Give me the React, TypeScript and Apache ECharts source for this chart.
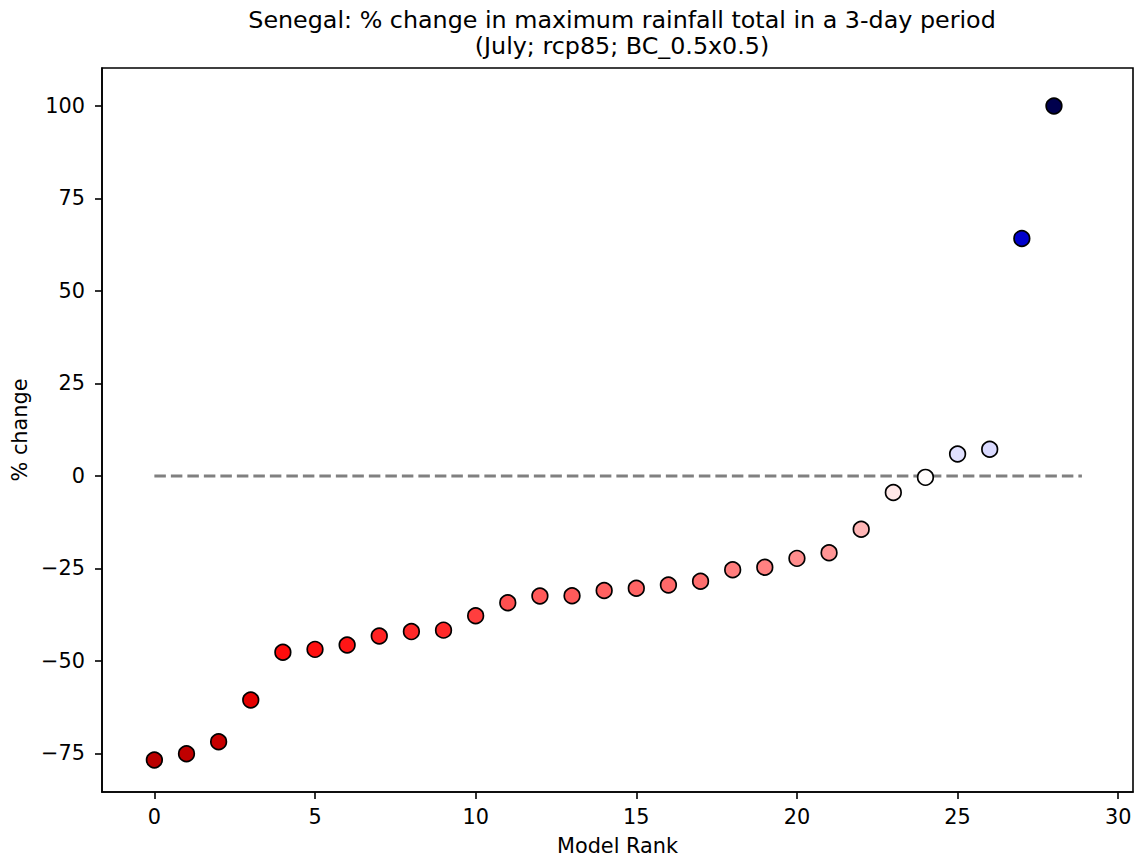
import React, { useEffect, useRef } from "react";
import * as echarts from "echarts";

const ranks = [0, 1, 2, 3, 4, 5, 6, 7, 8, 9, 10, 11, 12, 13, 14, 15, 16, 17, 18, 19, 20, 21, 22, 23, 24, 25, 26, 27, 28];
const pctChange = [
  -76.8, -75.1, -71.9, -60.6, -47.7, -46.9, -45.7, -43.3, -42.1, -41.7,
  -37.8, -34.3, -32.5, -32.4, -31.0, -30.4, -29.5, -28.5, -25.4, -24.7,
  -22.3, -20.8, -14.4, -4.5, -0.4, 5.9, 7.2, 64.2, 100.0,
];
const xTicks = [0, 5, 10, 15, 20, 25, 30];
const yTicks = [-75, -50, -25, 0, 25, 50, 75, 100];
const zeroLineX = [0, 28.87];
const titleText = "Senegal: % change in maximum rainfall total in a 3-day period\n(July; rcp85; BC_0.5x0.5)";

// seismic_r colormap, normalised to [-100, 100]
function seismicR(v: number): string {
  let t = 1 - (v + 100) / 200;
  t = Math.max(0, Math.min(1, t));
  const stops: [number, number[]][] = [
    [0, [0, 0, 0.3]],
    [0.25, [0, 0, 1]],
    [0.5, [1, 1, 1]],
    [0.75, [1, 0, 0]],
    [1, [0.5, 0, 0]],
  ];
  for (let i = 0; i < stops.length - 1; i++) {
    const [t0, c0] = stops[i];
    const [t1, c1] = stops[i + 1];
    if (t >= t0 && t <= t1) {
      const f = (t - t0) / (t1 - t0);
      const c = c0.map((a, k) => Math.round((a + (c1[k] - a) * f) * 255));
      return `rgb(${c[0]},${c[1]},${c[2]})`;
    }
  }
  return "#000";
}

const FONT = "DejaVu Sans";
const FS = 20.8;

export default function App() {
  const ref = useRef<HTMLDivElement>(null);
  useEffect(() => {
    if (!ref.current) return;
    const chart = echarts.init(ref.current, null, { renderer: "svg" });
    chart.setOption({
      animation: false,
      backgroundColor: "#fff",
      textStyle: { fontFamily: FONT },
      title: {
        text: titleText,
        left: 617,
        top: 2,
        textAlign: "center",
        textStyle: { fontFamily: FONT, fontSize: 23.8, fontWeight: "normal", color: "#000", lineHeight: 26 },
      },
      grid: {
        left: 102,
        top: 68,
        right: 3,
        bottom: 69,
        show: true,
        borderColor: "#000",
        borderWidth: 1.6,
        backgroundColor: "transparent",
      },
      xAxis: {
        type: "value",
        min: -1.63,
        max: 30.46,
        name: "Model Rank",
        nameLocation: "middle",
        nameGap: 43,
        nameTextStyle: { fontFamily: FONT, fontSize: FS, color: "#000" },
        axisLine: { show: true, onZero: false, lineStyle: { color: "#000", width: 1.6 } },
        axisTick: { show: true, length: 7, lineStyle: { color: "#000", width: 1.6 }, customValues: xTicks },
        axisLabel: { fontFamily: FONT, fontSize: FS, color: "#000", margin: 14, customValues: xTicks },
        splitLine: { show: false },
      },
      yAxis: {
        type: "value",
        min: -85.46,
        max: 110.27,
        name: "% change",
        nameLocation: "middle",
        nameGap: 70,
        nameRotate: 90,
        nameTextStyle: { fontFamily: FONT, fontSize: FS, color: "#000" },
        axisLine: { show: true, onZero: false, lineStyle: { color: "#000", width: 1.6 } },
        axisTick: { show: true, length: 7, lineStyle: { color: "#000", width: 1.6 }, customValues: yTicks },
        axisLabel: { fontFamily: FONT, fontSize: FS, color: "#000", margin: 17, customValues: yTicks,
          formatter: (v: number) => (v < 0 ? "\u2212" + Math.abs(v) : String(v)) },
        splitLine: { show: false },
      },
      series: [
        {
          type: "line",
          data: zeroLineX.map((x) => [x, 0]),
          symbol: "none",
          lineStyle: { color: "#808080", width: 3, type: [11.5, 5] },
          z: 1,
          silent: true,
        },
        {
          type: "scatter",
          data: ranks.map((r, i) => [r, pctChange[i]]),
          symbolSize: 15.6,
          itemStyle: {
            color: (p: any) => seismicR(p.value[1]),
            borderColor: "#000",
            borderWidth: 1.7,
            opacity: 1,
          },
          z: 3,
        },
      ],
    });
    return () => chart.dispose();
  }, []);
  return <div ref={ref} style={{ position: "absolute", left: 0, top: 0, width: 1136, height: 861 }} />;
}
